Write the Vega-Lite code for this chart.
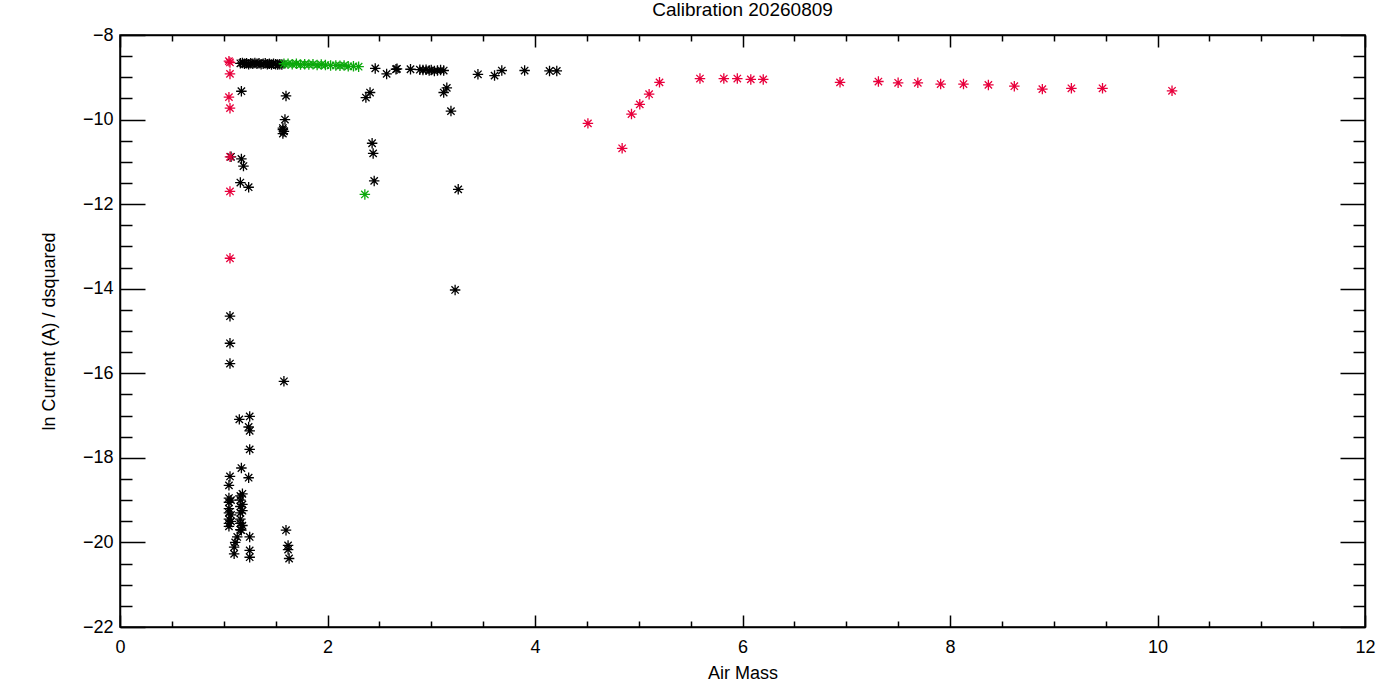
{
  "$schema": "https://vega.github.io/schema/vega-lite/v6.json",
  "description": "Calibration scatter: ln current over dsquared against air mass",
  "width": 1245,
  "height": 592,
  "autosize": {"type": "none"},
  "padding": {"left": 120, "top": 35, "right": 35, "bottom": 73},
  "background": "white",
  "title": {"text": "Calibration 20260809", "font": "Liberation Sans", "fontSize": 19, "fontWeight": "normal", "color": "black", "offset": 6, "anchor": "middle"},
  "config": {
    "view": {"stroke": "black", "strokeWidth": 1.5},
    "axis": {"domainColor": "black", "domainWidth": 1.5, "tickColor": "black", "tickWidth": 1.5, "labelFont": "Liberation Sans", "labelFontSize": 18, "labelColor": "black", "titleFont": "Liberation Sans", "titleFontSize": 18, "titleFontWeight": "normal", "titleColor": "black", "grid": false}
  },
  "data": {"values": [
    {"airmass": 1.16, "val": -8.67, "group": "black"},
    {"airmass": 1.18, "val": -8.66, "group": "black"},
    {"airmass": 1.20, "val": -8.68, "group": "black"},
    {"airmass": 1.22, "val": -8.67, "group": "black"},
    {"airmass": 1.24, "val": -8.69, "group": "black"},
    {"airmass": 1.26, "val": -8.67, "group": "black"},
    {"airmass": 1.28, "val": -8.68, "group": "black"},
    {"airmass": 1.30, "val": -8.66, "group": "black"},
    {"airmass": 1.32, "val": -8.68, "group": "black"},
    {"airmass": 1.34, "val": -8.67, "group": "black"},
    {"airmass": 1.36, "val": -8.69, "group": "black"},
    {"airmass": 1.38, "val": -8.68, "group": "black"},
    {"airmass": 1.40, "val": -8.67, "group": "black"},
    {"airmass": 1.42, "val": -8.69, "group": "black"},
    {"airmass": 1.44, "val": -8.68, "group": "black"},
    {"airmass": 1.46, "val": -8.70, "group": "black"},
    {"airmass": 1.48, "val": -8.68, "group": "black"},
    {"airmass": 1.50, "val": -8.69, "group": "black"},
    {"airmass": 1.52, "val": -8.70, "group": "black"},
    {"airmass": 1.54, "val": -8.69, "group": "black"},
    {"airmass": 1.56, "val": -8.70, "group": "black"},
    {"airmass": 1.17, "val": -9.33, "group": "black"},
    {"airmass": 1.60, "val": -9.44, "group": "black"},
    {"airmass": 1.59, "val": -10.0, "group": "black"},
    {"airmass": 1.57, "val": -10.20, "group": "black"},
    {"airmass": 1.57, "val": -10.24, "group": "black"},
    {"airmass": 1.58, "val": -10.28, "group": "black"},
    {"airmass": 1.57, "val": -10.33, "group": "black"},
    {"airmass": 1.17, "val": -10.93, "group": "black"},
    {"airmass": 1.19, "val": -11.10, "group": "black"},
    {"airmass": 1.07, "val": -10.88, "group": "black"},
    {"airmass": 1.16, "val": -11.49, "group": "black"},
    {"airmass": 1.24, "val": -11.60, "group": "black"},
    {"airmass": 2.46, "val": -8.79, "group": "black"},
    {"airmass": 2.57, "val": -8.92, "group": "black"},
    {"airmass": 2.66, "val": -8.81, "group": "black"},
    {"airmass": 2.67, "val": -8.80, "group": "black"},
    {"airmass": 2.80, "val": -8.81, "group": "black"},
    {"airmass": 2.89, "val": -8.82, "group": "black"},
    {"airmass": 2.92, "val": -8.83, "group": "black"},
    {"airmass": 2.95, "val": -8.82, "group": "black"},
    {"airmass": 2.98, "val": -8.84, "group": "black"},
    {"airmass": 3.00, "val": -8.83, "group": "black"},
    {"airmass": 3.03, "val": -8.85, "group": "black"},
    {"airmass": 3.06, "val": -8.84, "group": "black"},
    {"airmass": 3.09, "val": -8.83, "group": "black"},
    {"airmass": 3.12, "val": -8.84, "group": "black"},
    {"airmass": 3.45, "val": -8.93, "group": "black"},
    {"airmass": 3.61, "val": -8.96, "group": "black"},
    {"airmass": 3.68, "val": -8.84, "group": "black"},
    {"airmass": 3.90, "val": -8.84, "group": "black"},
    {"airmass": 4.14, "val": -8.85, "group": "black"},
    {"airmass": 4.21, "val": -8.85, "group": "black"},
    {"airmass": 2.41, "val": -9.36, "group": "black"},
    {"airmass": 2.37, "val": -9.48, "group": "black"},
    {"airmass": 3.15, "val": -9.25, "group": "black"},
    {"airmass": 3.12, "val": -9.36, "group": "black"},
    {"airmass": 3.19, "val": -9.80, "group": "black"},
    {"airmass": 2.43, "val": -10.56, "group": "black"},
    {"airmass": 2.44, "val": -10.80, "group": "black"},
    {"airmass": 2.45, "val": -11.45, "group": "black"},
    {"airmass": 3.26, "val": -11.65, "group": "black"},
    {"airmass": 3.23, "val": -14.03, "group": "black"},
    {"airmass": 1.06, "val": -14.65, "group": "black"},
    {"airmass": 1.06, "val": -15.29, "group": "black"},
    {"airmass": 1.06, "val": -15.77, "group": "black"},
    {"airmass": 1.58, "val": -16.19, "group": "black"},
    {"airmass": 1.15, "val": -17.09, "group": "black"},
    {"airmass": 1.25, "val": -17.02, "group": "black"},
    {"airmass": 1.24, "val": -17.27, "group": "black"},
    {"airmass": 1.25, "val": -17.36, "group": "black"},
    {"airmass": 1.25, "val": -17.80, "group": "black"},
    {"airmass": 1.17, "val": -18.24, "group": "black"},
    {"airmass": 1.24, "val": -18.47, "group": "black"},
    {"airmass": 1.06, "val": -18.44, "group": "black"},
    {"airmass": 1.05, "val": -18.65, "group": "black"},
    {"airmass": 1.05, "val": -18.95, "group": "black"},
    {"airmass": 1.05, "val": -19.05, "group": "black"},
    {"airmass": 1.05, "val": -19.20, "group": "black"},
    {"airmass": 1.05, "val": -19.30, "group": "black"},
    {"airmass": 1.05, "val": -19.45, "group": "black"},
    {"airmass": 1.05, "val": -19.55, "group": "black"},
    {"airmass": 1.05, "val": -19.62, "group": "black"},
    {"airmass": 1.07, "val": -19.00, "group": "black"},
    {"airmass": 1.07, "val": -19.35, "group": "black"},
    {"airmass": 1.07, "val": -19.50, "group": "black"},
    {"airmass": 1.16, "val": -18.90, "group": "black"},
    {"airmass": 1.16, "val": -19.00, "group": "black"},
    {"airmass": 1.16, "val": -19.15, "group": "black"},
    {"airmass": 1.16, "val": -19.30, "group": "black"},
    {"airmass": 1.16, "val": -19.45, "group": "black"},
    {"airmass": 1.16, "val": -19.55, "group": "black"},
    {"airmass": 1.16, "val": -19.70, "group": "black"},
    {"airmass": 1.18, "val": -18.85, "group": "black"},
    {"airmass": 1.18, "val": -19.10, "group": "black"},
    {"airmass": 1.18, "val": -19.25, "group": "black"},
    {"airmass": 1.18, "val": -19.60, "group": "black"},
    {"airmass": 1.13, "val": -19.87, "group": "black"},
    {"airmass": 1.17, "val": -19.71, "group": "black"},
    {"airmass": 1.25, "val": -19.87, "group": "black"},
    {"airmass": 1.11, "val": -20.00, "group": "black"},
    {"airmass": 1.10, "val": -20.11, "group": "black"},
    {"airmass": 1.10, "val": -20.27, "group": "black"},
    {"airmass": 1.25, "val": -20.19, "group": "black"},
    {"airmass": 1.25, "val": -20.35, "group": "black"},
    {"airmass": 1.60, "val": -19.71, "group": "black"},
    {"airmass": 1.62, "val": -20.07, "group": "black"},
    {"airmass": 1.62, "val": -20.17, "group": "black"},
    {"airmass": 1.63, "val": -20.38, "group": "black"},
    {"airmass": 1.58, "val": -8.68, "group": "green"},
    {"airmass": 1.62, "val": -8.68, "group": "green"},
    {"airmass": 1.66, "val": -8.69, "group": "green"},
    {"airmass": 1.70, "val": -8.68, "group": "green"},
    {"airmass": 1.74, "val": -8.70, "group": "green"},
    {"airmass": 1.78, "val": -8.69, "group": "green"},
    {"airmass": 1.82, "val": -8.70, "group": "green"},
    {"airmass": 1.86, "val": -8.69, "group": "green"},
    {"airmass": 1.90, "val": -8.71, "group": "green"},
    {"airmass": 1.94, "val": -8.70, "group": "green"},
    {"airmass": 1.98, "val": -8.71, "group": "green"},
    {"airmass": 2.03, "val": -8.72, "group": "green"},
    {"airmass": 2.08, "val": -8.72, "group": "green"},
    {"airmass": 2.12, "val": -8.73, "group": "green"},
    {"airmass": 2.16, "val": -8.72, "group": "green"},
    {"airmass": 2.20, "val": -8.74, "group": "green"},
    {"airmass": 2.25, "val": -8.74, "group": "green"},
    {"airmass": 2.30, "val": -8.75, "group": "green"},
    {"airmass": 2.36, "val": -11.77, "group": "green"},
    {"airmass": 1.05, "val": -8.62, "group": "red"},
    {"airmass": 1.06, "val": -8.65, "group": "red"},
    {"airmass": 1.06, "val": -8.92, "group": "red"},
    {"airmass": 1.05, "val": -9.47, "group": "red"},
    {"airmass": 1.06, "val": -9.73, "group": "red"},
    {"airmass": 1.06, "val": -10.88, "group": "red"},
    {"airmass": 1.06, "val": -11.70, "group": "red"},
    {"airmass": 1.06, "val": -13.28, "group": "red"},
    {"airmass": 4.51, "val": -10.09, "group": "red"},
    {"airmass": 4.84, "val": -10.68, "group": "red"},
    {"airmass": 4.93, "val": -9.87, "group": "red"},
    {"airmass": 5.01, "val": -9.64, "group": "red"},
    {"airmass": 5.10, "val": -9.40, "group": "red"},
    {"airmass": 5.20, "val": -9.12, "group": "red"},
    {"airmass": 5.59, "val": -9.03, "group": "red"},
    {"airmass": 5.82, "val": -9.03, "group": "red"},
    {"airmass": 5.95, "val": -9.03, "group": "red"},
    {"airmass": 6.08, "val": -9.05, "group": "red"},
    {"airmass": 6.20, "val": -9.05, "group": "red"},
    {"airmass": 6.94, "val": -9.12, "group": "red"},
    {"airmass": 7.31, "val": -9.10, "group": "red"},
    {"airmass": 7.50, "val": -9.13, "group": "red"},
    {"airmass": 7.69, "val": -9.13, "group": "red"},
    {"airmass": 7.91, "val": -9.16, "group": "red"},
    {"airmass": 8.13, "val": -9.16, "group": "red"},
    {"airmass": 8.37, "val": -9.18, "group": "red"},
    {"airmass": 8.62, "val": -9.21, "group": "red"},
    {"airmass": 8.89, "val": -9.28, "group": "red"},
    {"airmass": 9.17, "val": -9.26, "group": "red"},
    {"airmass": 9.47, "val": -9.26, "group": "red"},
    {"airmass": 10.14, "val": -9.32, "group": "red"}
  ]},
  "resolve": {"axis": {"x": "independent", "y": "independent"}},
  "layer": [
    {
      "mark": {"type": "point", "shape": "M-1,0L1,0M0,-1L0,1M-0.7,-0.7L0.7,0.7M-0.7,0.7L0.7,-0.7", "filled": false, "size": 110, "strokeWidth": 1.3, "opacity": 1},
      "encoding": {
        "x": {"field": "airmass", "type": "quantitative", "scale": {"domain": [0, 12], "nice": false, "zero": false},
          "axis": {"orient": "bottom", "title": "Air Mass", "titlePadding": 2,
            "values": [0,0.5,1,1.5,2,2.5,3,3.5,4,4.5,5,5.5,6,6.5,7,7.5,8,8.5,9,9.5,10,10.5,11,11.5,12],
            "labelExpr": "datum.value % 2 === 0 ? format(datum.value, 'd') : ''",
            "tickSize": {"condition": {"test": "datum.value % 2 === 0", "value": -12}, "value": -6},
            "labelPadding": 23, "labelFlush": false, "labelOverlap": false}},
        "y": {"field": "val", "type": "quantitative", "scale": {"domain": [-22, -8], "nice": false, "zero": false},
          "axis": {"orient": "left", "title": "ln Current (A) / dsquared", "titlePadding": 24,
            "values": [-22,-21.5,-21,-20.5,-20,-19.5,-19,-18.5,-18,-17.5,-17,-16.5,-16,-15.5,-15,-14.5,-14,-13.5,-13,-12.5,-12,-11.5,-11,-10.5,-10,-9.5,-9,-8.5,-8],
            "labelExpr": "datum.value % 2 === 0 ? format(datum.value, 'd') : ''",
            "tickSize": {"condition": {"test": "datum.value % 2 === 0", "value": -25}, "value": -12},
            "labelPadding": 32, "labelFlush": false, "labelOverlap": false}},
        "color": {"field": "group", "type": "nominal", "legend": null,
          "scale": {"domain": ["black", "green", "red"], "range": ["#000000", "#0aa80a", "#e8003c"]}}
      }
    },
    {
      "mark": {"type": "point", "opacity": 0},
      "encoding": {
        "x": {"field": "airmass", "type": "quantitative",
          "axis": {"orient": "top", "title": null, "labels": false,
            "values": [0,0.5,1,1.5,2,2.5,3,3.5,4,4.5,5,5.5,6,6.5,7,7.5,8,8.5,9,9.5,10,10.5,11,11.5,12],
            "tickSize": {"condition": {"test": "datum.value % 2 === 0", "value": -12}, "value": -6}}},
        "y": {"field": "val", "type": "quantitative",
          "axis": {"orient": "right", "title": null, "labels": false,
            "values": [-22,-21.5,-21,-20.5,-20,-19.5,-19,-18.5,-18,-17.5,-17,-16.5,-16,-15.5,-15,-14.5,-14,-13.5,-13,-12.5,-12,-11.5,-11,-10.5,-10,-9.5,-9,-8.5,-8],
            "tickSize": {"condition": {"test": "datum.value % 2 === 0", "value": -25}, "value": -12}}}
      }
    }
  ]
}
